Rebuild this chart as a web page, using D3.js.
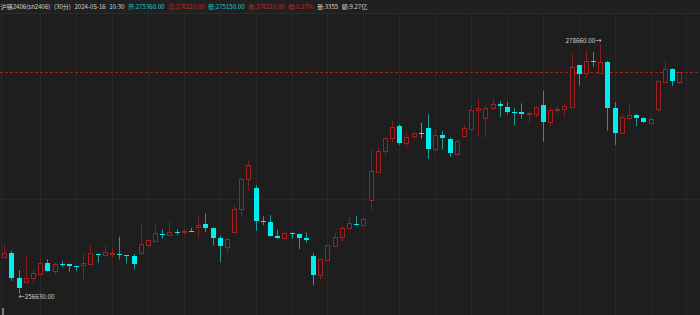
<!DOCTYPE html>
<html>
<head>
<meta charset="utf-8">
<script src="https://cdn.jsdelivr.net/npm/d3@7"></script>
<style>
  html, body { margin: 0; padding: 0; background: #1e1e1e; overflow: hidden; }
  svg { display: block; }
  text { font-family: "Noto Sans CJK SC", "Noto Sans", sans-serif; }
</style>
</head>
<body>
<div id="chart"></div>
<script>
// 30-minute bars, oldest first
const opens = [
  259860, 260210, 258000, 257700, 258050, 258440, 259380, 258670, 259290, 259240,
  259090, 259150, 259260, 260150, 260060, 260210, 260150, 260060, 260000, 260210,
  260940, 261320, 261920, 261850, 262120, 262090, 262240, 262510, 262800, 262450,
  261560, 260790, 262150, 264130, 266750, 265960, 263040, 262980, 261740, 261540,
  262030, 261890, 261560, 260030, 258350, 259620, 260880, 261680, 262420, 262800,
  262770, 264980, 267370, 269280, 270400, 271460, 269930, 270610, 270820, 271260,
  269400, 270670, 270340, 268990, 270610, 271220, 272850, 272200, 273030, 273410,
  273170, 272670, 272670, 272550, 272500, 273350, 271790, 272900, 272940, 273170,
  276830, 276120, 277180, 276170, 277120, 273050, 270820, 272200, 272440, 272140,
  271750, 272940, 275380, 276500, 275360
];
const highs = [
  260940, 260470, 258730, 260000, 258730, 259710, 259710, 259410, 259560, 259330,
  259090, 260120, 260940, 260210, 260920, 260740, 261680, 260060, 260150, 262770,
  261450, 262710, 262330, 262950, 262330, 262380, 262470, 263510, 263750, 262510,
  261800, 261590, 264420, 266930, 268400, 266250, 263510, 263600, 262330, 262120,
  262090, 261890, 262070, 260260, 259730, 260970, 262000, 262620, 263450, 263510,
  263390, 269340, 269540, 270520, 271930, 271610, 270820, 270870, 271750, 272520,
  271110, 271020, 270460, 270230, 271520, 273260, 273850, 273290, 273940, 273670,
  273580, 273080, 273470, 272790, 273260, 274580, 273230, 273230, 273410, 277830,
  276860, 278180, 278030, 278660, 277210, 273580, 272520, 273470, 272520, 272230,
  272230, 275530, 277210, 276560, 276220
];
const lows = [
  259770, 257790, 256630, 257560, 257610, 258380, 258640, 258380, 259030, 258580,
  258640, 257940, 259240, 259380, 259910, 259860, 259680, 259330, 258800, 260150,
  260920, 261210, 261500, 261770, 261830, 261830, 262120, 261620, 262090, 260920,
  259440, 260260, 262090, 263450, 265740, 262210, 262710, 261680, 261500, 261470,
  261500, 260590, 261150, 257410, 257910, 259590, 260850, 261270, 262380, 262680,
  262680, 264040, 267330, 268810, 269990, 269810, 269630, 270290, 270380, 268570,
  269100, 269400, 268750, 268810, 270460, 271050, 270580, 270460, 272940, 272290,
  272520, 271520, 272110, 271750, 272230, 270080, 271490, 272590, 272370, 273120,
  275030, 275730, 276700, 276120, 271050, 269810, 270760, 271930, 271460, 271730,
  271730, 272640, 275330, 275000, 275150
];
const closes = [
  260210, 258030, 257200, 258000, 258490, 259410, 258670, 259260, 259180, 259110,
  259000, 259330, 260210, 260090, 260300, 260260, 260060, 260030, 259290, 261010,
  261390, 261980, 261850, 262120, 262070, 262240, 262180, 262770, 262450, 261590,
  260830, 261500, 264150, 266750, 268020, 263040, 263000, 261740, 261540, 262030,
  261940, 261590, 261360, 258350, 259680, 260920, 261710, 262450, 262860, 262740,
  263240, 267460, 269280, 270430, 271420, 269960, 270520, 270820, 270820, 269430,
  270640, 270430, 269050, 270140, 271260, 272880, 273030, 273030, 273410, 273200,
  272700, 272640, 272500, 272590, 273120, 271820, 272880, 272940, 273200, 276700,
  276090, 277180, 277150, 277120, 273080, 270840, 272230, 272440, 272140, 271820,
  272060, 275410, 276530, 275410, 276210
];

const headerItems = [
  { text: '沪锡2406(sn2406)', tone: 'plain' },
  { text: '(30分)', tone: 'plain' },
  { text: '2024-05-16', tone: 'plain' },
  { text: '10:30', tone: 'plain' },
  { text: '开:275360.00', tone: 'down' },
  { text: '高:276220.00', tone: 'up' },
  { text: '低:275150.00', tone: 'down' },
  { text: '收:276210.00', tone: 'up' },
  { text: '幅:0.27%', tone: 'up' },
  { text: '量:3355', tone: 'plain' },
  { text: '额:9.27亿', tone: 'plain' },
];

const width = 700;
const height = 315;
const colors = {
  bg: '#1e1e1e',
  grid: '#282828',
  up: '#a3201f',
  upWick: '#8c1c1c',
  down: '#00eef0',
  downWick: '#1f9a9a',
  flat: '#b4b4b4',
  text: '#d2d2d2',
  upText: '#c42a2a',
  downText: '#1ec8c8',
};

const bars = opens.map((o, i) => ({
  i, o, h: highs[i], l: lows[i], c: closes[i],
}));
const n = bars.length;

const x = d3.scaleLinear().domain([0, n - 1]).range([4.3, 679.3]);
const y = d3.scaleLinear()
  .domain([d3.min(lows), d3.max(highs)])
  .range([294, 44.7]);

const svg = d3.select('#chart').append('svg')
  .attr('width', width)
  .attr('height', height);

svg.append('rect')
  .attr('width', width).attr('height', height)
  .attr('fill', colors.bg);

// header strip
svg.append('rect')
  .attr('width', width).attr('height', 13)
  .attr('fill', '#202020');
svg.append('line')
  .attr('x1', 0).attr('x2', width)
  .attr('y1', 13.5).attr('y2', 13.5)
  .attr('stroke', '#2b2b2b');

// grid
const grid = svg.append('g').attr('class', 'grid');
grid.selectAll('line.v')
  .data(d3.range(5, n + 1, 5))
  .join('line')
  .attr('class', 'v')
  .attr('x1', (d) => Math.round(x(d)) + 0.5)
  .attr('x2', (d) => Math.round(x(d)) + 0.5)
  .attr('y1', 14).attr('y2', height)
  .attr('stroke', colors.grid);
grid.selectAll('line.h')
  .data([265000])
  .join('line')
  .attr('class', 'h')
  .attr('x1', 0).attr('x2', width)
  .attr('y1', (d) => Math.round(y(d)) + 0.5)
  .attr('y2', (d) => Math.round(y(d)) + 0.5)
  .attr('stroke', colors.grid);
grid.append('line')
  .attr('x1', 1.5).attr('x2', 1.5)
  .attr('y1', 14).attr('y2', height)
  .attr('stroke', colors.grid);

// last price line
const last = bars[n - 1];
svg.append('line')
  .attr('x1', 0).attr('x2', width)
  .attr('y1', Math.round(y(last.c)) + 0.5)
  .attr('y2', Math.round(y(last.c)) + 0.5)
  .attr('stroke', colors.up)
  .attr('stroke-dasharray', '3,2');

const tone = (d) => (d.c > d.o ? 'up' : d.c < d.o ? 'down' : 'flat');
const cx = (d) => Math.round(x(d.i)) + 0.5;

const candles = svg.append('g').attr('class', 'candles')
  .selectAll('g')
  .data(bars)
  .join('g');

candles.append('line')
  .attr('x1', cx).attr('x2', cx)
  .attr('y1', (d) => y(d.h))
  .attr('y2', (d) => y(d.l))
  .attr('stroke', (d) => ({
    up: colors.upWick, down: colors.downWick, flat: '#8a8a8a',
  })[tone(d)]);

// rising: hollow red
candles.filter((d) => tone(d) === 'up')
  .append('rect')
  .attr('x', (d) => cx(d) - 2)
  .attr('width', 4)
  .attr('y', (d) => Math.round(y(d.c)) + 0.5)
  .attr('height', (d) => Math.max(1, Math.round(y(d.o)) - Math.round(y(d.c))))
  .attr('fill', colors.bg)
  .attr('stroke', colors.up);

// falling: solid cyan
candles.filter((d) => tone(d) === 'down')
  .append('rect')
  .attr('x', (d) => cx(d) - 2.5)
  .attr('width', 5)
  .attr('y', (d) => Math.round(y(d.o)))
  .attr('height', (d) => Math.max(1, Math.round(y(d.c)) - Math.round(y(d.o))))
  .attr('fill', colors.down);

// unchanged
candles.filter((d) => tone(d) === 'flat')
  .append('line')
  .attr('x1', (d) => cx(d) - 2.5)
  .attr('x2', (d) => cx(d) + 2.5)
  .attr('y1', (d) => Math.round(y(d.c)) + 0.5)
  .attr('y2', (d) => Math.round(y(d.c)) + 0.5)
  .attr('stroke', colors.flat);

// extremes
const hiBar = bars[d3.maxIndex(highs)];
const loBar = bars[d3.minIndex(lows)];
svg.append('text')
  .attr('x', cx(hiBar) + 1)
  .attr('y', y(hiBar.h) - 2)
  .attr('text-anchor', 'end')
  .attr('font-size', 6.3)
  .attr('fill', colors.text)
  .text(`${d3.format('.2f')(hiBar.h)}→`);
svg.append('text')
  .attr('x', cx(loBar) - 1)
  .attr('y', y(loBar.l) + 4.5)
  .attr('font-size', 6.3)
  .attr('fill', colors.text)
  .text(`←${d3.format('.2f')(loBar.l)}`);

// header info
const toneColor = { plain: colors.text, up: colors.upText, down: colors.downText };
let hx = 0.5;
headerItems.forEach((item) => {
  const t = svg.append('text')
    .attr('x', hx)
    .attr('y', 8.6)
    .attr('font-size', 6.1)
    .attr('fill', toneColor[item.tone])
    .text(item.text);
  hx += t.node().getComputedTextLength() + 3.5;
});

// scroll marker bottom-left
svg.append('rect')
  .attr('x', 2).attr('y', 308)
  .attr('width', 2).attr('height', 7)
  .attr('fill', '#7a7a7a');
</script>
</body>
</html>
